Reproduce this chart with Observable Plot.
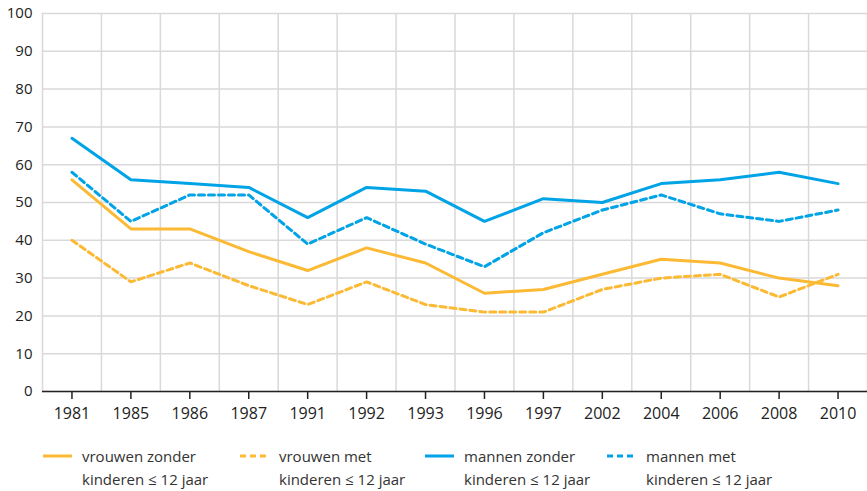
<!DOCTYPE html>
<html><head><meta charset="utf-8">
<script src="https://cdn.jsdelivr.net/npm/d3@7"></script>
<script src="https://cdn.jsdelivr.net/npm/@observablehq/plot@0.6"></script>
<style>
html,body{margin:0;background:#fff;font-family:"Open Sans",sans-serif;overflow:hidden;}
#wrap{position:relative;width:867px;height:491px;overflow:hidden;}
#chart svg{display:block;}
.leg{position:absolute;top:445px;display:flex;align-items:flex-start;font-size:15px;color:#333;line-height:23px;}
.leg svg{margin-top:6px;margin-right:10px;}
</style></head><body>
<div id="wrap"><div id="chart"></div><div id="legend"></div></div>
<script>
const years = ["1981","1985","1986","1987","1991","1992","1993","1996","1997","2002","2004","2006","2008","2010"];
const vrouwenZonder = [56,43,43,37,32,38,34,26,27,31,35,34,30,28];
const vrouwenMet    = [40,29,34,28,23,29,23,21,21,27,30,31,25,31];
const mannenZonder  = [67,56,55,54,46,54,53,45,51,50,55,56,58,55];
const mannenMet     = [58,45,52,52,39,46,39,33,42,48,52,47,45,48];
const yTicks = [0,10,20,30,40,50,60,70,80,90,100];
const seriesNames = ["vrouwen zonder\nkinderen ≤ 12 jaar","vrouwen met\nkinderen ≤ 12 jaar","mannen zonder\nkinderen ≤ 12 jaar","mannen met\nkinderen ≤ 12 jaar"];
const orange = "#fbb934", blue = "#00a3e6";
const styles = [
  {color: orange, dash: null},
  {color: orange, dash: "6,4"},
  {color: blue, dash: null},
  {color: blue, dash: "6,4"}
];
const allSeries = [vrouwenZonder, vrouwenMet, mannenZonder, mannenMet];
const data = allSeries.map((vals, s) => years.map((y, i) => ({year: y, value: vals[i], s})));

const W = 867, mL = 42, mR = 0;
const step = (W - mL - mR) / years.length;

const marks = [
  Plot.gridY(yTicks, {stroke: "#d9d9d9", strokeOpacity: 1, strokeWidth: 1.5}),
  Plot.gridX(years, {dx: step / 2, stroke: "#d9d9d9", strokeOpacity: 1, strokeWidth: 1.5}),
  Plot.frame({anchor: "left", stroke: "#d9d9d9", strokeWidth: 1.5}),
  Plot.axisY(yTicks, {tickSize: 0, tickPadding: 10, fontSize: 15, fill: "#222"}),
  Plot.axisX(years, {tickSize: 8, tickPadding: 8, fontSize: 16, fill: "#222", stroke: "#222", strokeWidth: 1.5}),
  Plot.ruleY([0], {stroke: "#222", strokeWidth: 1.5})
];
data.forEach((d, s) => {
  marks.push(Plot.line(d, {x: "year", y: "value", stroke: styles[s].color, strokeWidth: 3,
    strokeDasharray: styles[s].dash, strokeLinejoin: "miter", curve: "linear"}));
});

const chart = Plot.plot({
  width: W, height: 437,
  marginLeft: mL, marginRight: mR, marginTop: 13, marginBottom: 46,
  style: {fontFamily: "'Open Sans', sans-serif", background: "#fff"},
  x: {type: "point", domain: years, padding: 0.5, round: false, label: null},
  y: {domain: [0, 100], label: null},
  marks
});
document.getElementById("chart").appendChild(chart);

const lefts = [43, 240, 425, 607];
const legend = document.getElementById("legend");
seriesNames.forEach((name, s) => {
  const div = document.createElement("div");
  div.className = "leg";
  div.style.left = lefts[s] + "px";
  const sw = `<svg width="29" height="10"><line x1="0" x2="29" y1="5" y2="5" stroke="${styles[s].color}" stroke-width="3" ${styles[s].dash ? `stroke-dasharray="${styles[s].dash}"` : ""}/></svg>`;
  div.innerHTML = sw + `<div>${name.replace("\n", "<br>")}</div>`;
  legend.appendChild(div);
});
</script>
</body></html>
